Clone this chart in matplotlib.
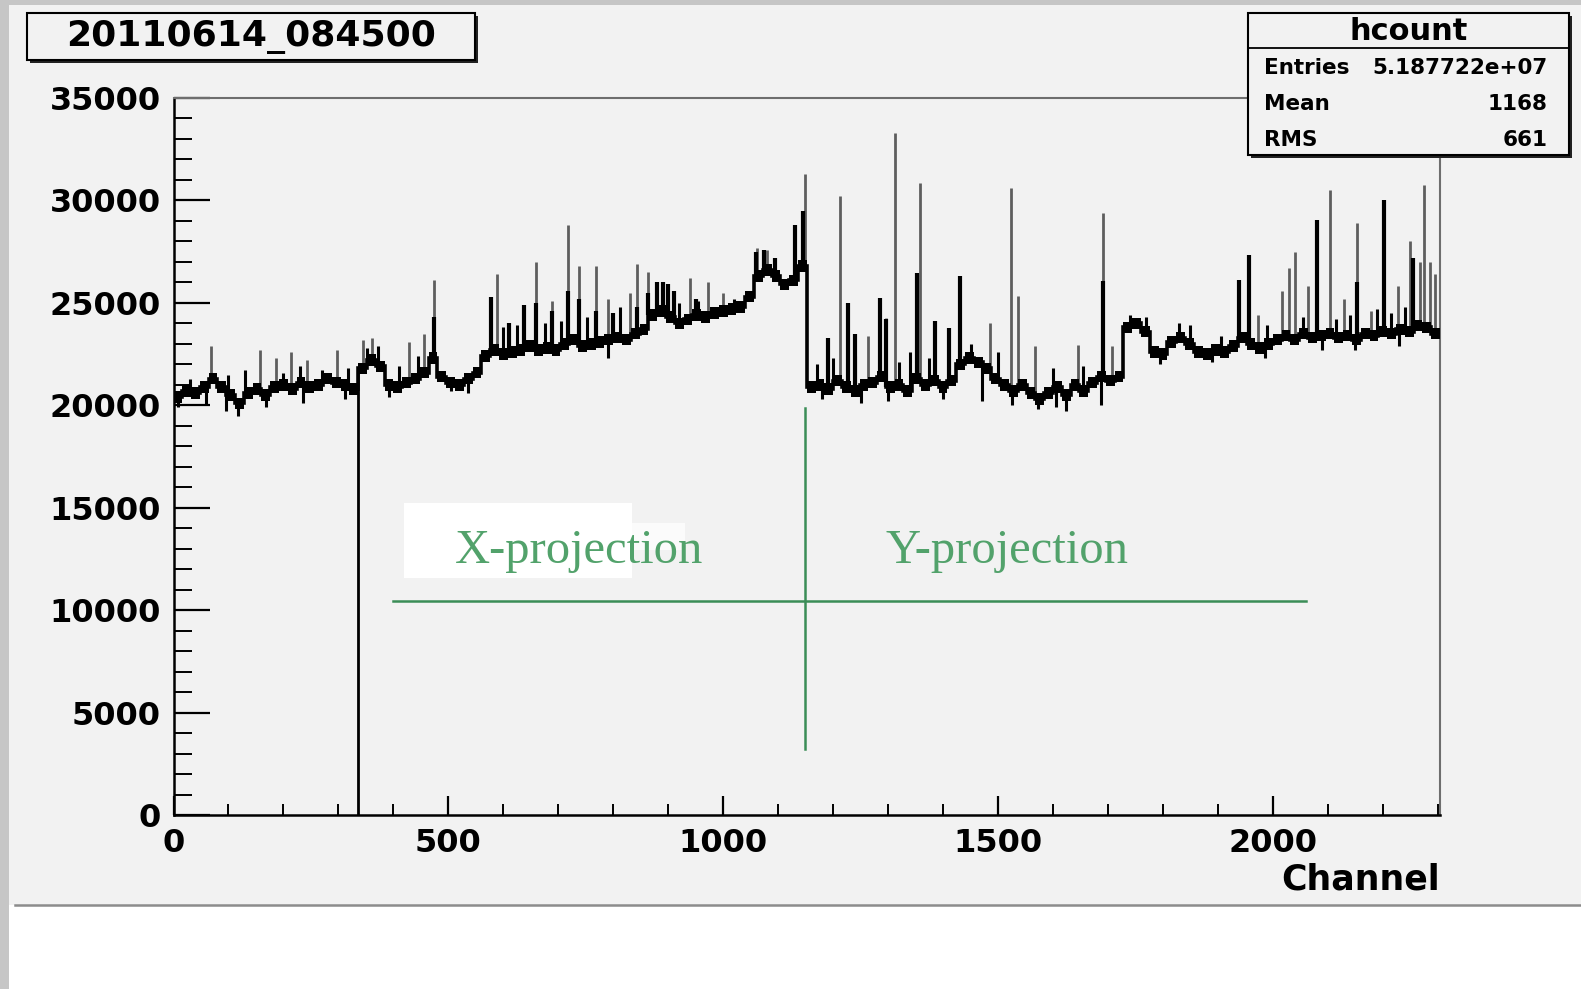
import numpy as np
import matplotlib
matplotlib.use("Agg")
import matplotlib.pyplot as plt
from matplotlib.patches import Rectangle
from matplotlib.lines import Line2D
from matplotlib.ticker import MultipleLocator

# ---------------- data ----------------
BIN = 16
n_channels = 2304
# baseline counts per 16-channel bin
baseline = [
    20400, 20700, 20600, 20900, 21300, 20900, 20500, 20100, 20600, 20800, 20500,
    20900, 21000, 20800, 21100, 20900, 21000, 21300, 21100, 21000, 20800,
    21800, 22200, 21900, 21000, 20900, 21100, 21300, 21600, 22300, 21400, 21100,
    21000, 21300, 21600,
    22400, 22700, 22500, 22600, 22700, 22900, 22700, 22800, 22700, 23000, 23200,
    22900, 23000, 23100, 23200, 23300, 23200, 23500, 23700,
    24400, 24600, 24300, 24000, 24200, 24400, 24300, 24500, 24600, 24700, 24800,
    25300, 26300, 26600, 26300, 25900, 26100, 26800,
    20900, 21000, 20800, 21200, 20900, 20700, 21000, 21100, 21400, 20900, 21000,
    20700, 21300, 21000, 21200, 20900, 21200, 22000, 22300, 22100, 21800, 21300,
    21000, 20700, 21000, 20600, 20300, 20600, 20900, 20500, 21000, 20700, 21100,
    21400, 21200, 21400,
    23800, 24000, 23600, 22600, 22500, 23100, 23300, 23000, 22600, 22500, 22700,
    22600, 22900, 23300, 23000, 22800, 23000, 23200, 23400, 23200, 23500, 23300,
    23400, 23500, 23300, 23400, 23200, 23500, 23400, 23600, 23500, 23700, 23600,
    23900, 23800, 23500,
]

# narrow (single-channel) spikes
thin_ch = [68, 158, 186, 214, 242, 298, 345, 362, 428, 456, 474, 589, 638, 659,
           689, 718, 738, 768, 790, 830, 844, 864, 940, 973, 1000, 1062, 1080,
           1149, 1191, 1212, 1264, 1297, 1313, 1358, 1386, 1410, 1486, 1524,
           1536, 1568, 1646, 1691, 1707, 1972, 2017, 2029, 2041, 2063, 2103,
           2130, 2153, 2178, 2227, 2249, 2267, 2275, 2285, 2294]
thin_peak = [22900, 22700, 22300, 22600, 22200, 22700, 23200, 23300, 23100,
             23500, 26100, 26400, 24900, 27000, 25100, 28800, 26800, 26800,
             25200, 25500, 26900, 26500, 26200, 26000, 25500, 27700, 27600,
             31300, 23300, 30200, 23400, 24250, 33300, 30850, 24100, 23750,
             24000, 30600, 25350, 22900, 22950, 29400, 22900, 24400, 25600,
             26700, 27500, 25800, 30500, 25200, 28900, 24600, 25800, 28000,
             27000, 30750, 27000, 26400]

# broad (multi-channel) peaks
wide_ch = [474, 577, 610, 638, 659, 689, 718, 738, 768, 800, 844, 864, 880,
           890, 900, 910, 950, 1060, 1075, 1095, 1130, 1145, 1191, 1227, 1240,
           1285, 1297, 1353, 1386, 1410, 1431, 1691, 1939, 1957, 2081, 2153,
           2202, 2255]
wide_peak = [24300, 25300, 24000, 24900, 25000, 24600, 25600, 25200, 24600,
             24500, 24800, 25500, 26000, 26000, 25900, 25600, 25200, 27500,
             27600, 27200, 28800, 29500, 23300, 25000, 23500, 25250, 24200,
             26450, 24100, 23750, 26300, 26050, 26100, 27350, 29050, 26000,
             30000, 27200]

# small fluctuations above baseline
minor_ch = [30, 100, 130, 200, 230, 270, 318, 352, 372, 410, 444, 600, 625, 676,
            705, 752, 812, 920, 955, 1020, 1170, 1200, 1240, 1320, 1340, 1375,
            1450, 1500, 1600, 1655, 1740, 1770, 1830, 1850, 1905, 1990, 2055,
            2115, 2140, 2190, 2215, 2240]
minor_peak = [21300, 21500, 21700, 21600, 21900, 21700, 21800, 22800, 22900,
              21900, 22400, 23800, 23900, 24000, 24100, 24300, 24800, 25000,
              25100, 25200, 22000, 22300, 22400, 22100, 22600, 22300, 23000,
              22600, 21800, 21900, 24400, 24300, 24000, 23900, 23400, 23900,
              24300, 24200, 24400, 24700, 24500, 24800]

# downward fluctuations
dip_ch = [8, 60, 95, 118, 168, 236, 312, 392, 505, 535, 790, 1180, 1250, 1300,
          1400, 1470, 1525, 1572, 1605, 1624, 1688, 1795, 1890, 1985, 2090,
          2150, 2230]
dip_low = [19900, 20000, 19700, 19500, 19900, 20100, 20300, 20400, 20700,
           20600, 22300, 20300, 20100, 20200, 20300, 20200, 20000, 19800,
           19900, 19700, 20000, 22000, 22100, 22300, 22700, 22700, 22900]

dead_channel = 336

title_text = "20110614_084500"
stats_name = "hcount"
stats_labels = ["Entries", "Mean", "RMS"]
stats_values = ["5.187722e+07", "1168", "661"]

# ---------------- figure ----------------
W, H = 1581, 989
fig = plt.figure(figsize=(W / 100, H / 100), dpi=100)
fig.patch.set_facecolor("white")

def fx(px):
    return px / W

def fy(py):
    return 1 - py / H

PANEL = "#f2f2f2"
BOLD = dict(family="DejaVu Sans", fontweight="bold")

# canvas background
fig.add_artist(Rectangle((fx(9), fy(905)), 1 - fx(9), fy(5) - fy(905),
                         transform=fig.transFigure, facecolor=PANEL,
                         edgecolor="none", zorder=-10))
fig.add_artist(Rectangle((0, 0), fx(9), 1, transform=fig.transFigure,
                         facecolor="#c6c6c6", edgecolor="none", zorder=-9))
fig.add_artist(Rectangle((0, fy(5)), 1, 1 - fy(5), transform=fig.transFigure,
                         facecolor="#c6c6c6", edgecolor="none", zorder=-9))
fig.add_artist(Line2D([fx(15), 1], [fy(905), fy(905)], transform=fig.transFigure,
                      color="#8c8c8c", lw=1.8, zorder=-8))

# axes
x0, x1, y0, y1 = 173.5, 1440, 815, 98
ax = fig.add_axes([fx(x0), fy(y0), fx(x1) - fx(x0), fy(y1) - fy(y0)])
ax.set_facecolor(PANEL)
ax.set_xlim(0, n_channels)
ax.set_ylim(0, 35000)

edges = np.arange(0, n_channels + BIN, BIN)
base = np.asarray(baseline, dtype=float)
BAND = 280  # half thickness of the noise ribbon (style)

def base_at(ch):
    return base[np.asarray(ch) // BIN]

ax.vlines(dip_ch, dip_low, base_at(dip_ch), color="black", lw=2.2, zorder=3)
ax.vlines(minor_ch, base_at(minor_ch), minor_peak, color="black", lw=2.2, zorder=3)
ax.vlines(thin_ch, base_at(thin_ch), thin_peak, color="#5e5e5e", lw=2.0, zorder=2)
ax.vlines(wide_ch, base_at(wide_ch), wide_peak, color="black", lw=3.0, zorder=3)
ax.stairs(base + BAND, edges, baseline=base - BAND, fill=True,
          color="black", lw=0, zorder=4)
ax.stairs(base, edges, baseline=None, color="black", lw=2.6, zorder=4)
ax.vlines([dead_channel], 0, base_at(dead_channel), color="black", lw=2.0, zorder=4)

# spines
for s in ("left", "bottom"):
    ax.spines[s].set_color("black")
    ax.spines[s].set_linewidth(1.8)
for s in ("top", "right"):
    ax.spines[s].set_color("#6e6e6e")
    ax.spines[s].set_linewidth(1.5)

ax.xaxis.set_major_locator(MultipleLocator(500))
ax.xaxis.set_minor_locator(MultipleLocator(100))
ax.yaxis.set_major_locator(MultipleLocator(5000))
ax.yaxis.set_minor_locator(MultipleLocator(1000))
ax.tick_params(axis="y", which="major", direction="in", length=26, width=1.6,
               pad=9, labelsize=23)
ax.tick_params(axis="y", which="minor", direction="in", length=13, width=1.4)
ax.tick_params(axis="x", which="major", direction="in", length=14, width=1.6,
               pad=9, labelsize=23)
ax.tick_params(axis="x", which="minor", direction="in", length=8, width=1.4)
for lab in ax.get_xticklabels() + ax.get_yticklabels():
    lab.set_fontfamily("DejaVu Sans")
    lab.set_fontweight("bold")

fig.text(fx(1440), fy(879), "Channel", ha="right", va="center", fontsize=25, **BOLD)

# title box
def shadow_box(xa, ya, xb, yb):
    fig.add_artist(Rectangle((fx(xa + 3), fy(yb + 3)), fx(xb) - fx(xa),
                             fy(ya) - fy(yb), transform=fig.transFigure,
                             facecolor="#222222", edgecolor="none", zorder=5))
    fig.add_artist(Rectangle((fx(xa), fy(yb)), fx(xb) - fx(xa), fy(ya) - fy(yb),
                             transform=fig.transFigure, facecolor=PANEL,
                             edgecolor="black", lw=1.5, zorder=6))

shadow_box(27, 13, 475, 60)
fig.text(fx(251), fy(37), title_text, ha="center", va="center", fontsize=26,
         zorder=7, **BOLD)

# stats box
shadow_box(1248, 13, 1569, 155)
fig.add_artist(Line2D([fx(1248), fx(1569)], [fy(48), fy(48)],
                      transform=fig.transFigure, color="black", lw=1.3, zorder=7))
fig.text(fx(1409), fy(31), stats_name, ha="center", va="center", fontsize=22,
         zorder=7, **BOLD)
for i, (lab, val) in enumerate(zip(stats_labels, stats_values)):
    yy = [68, 104, 140][i]
    fig.text(fx(1264), fy(yy), lab, ha="left", va="center", fontsize=15.5,
             zorder=7, **BOLD)
    fig.text(fx(1548), fy(yy), val, ha="right", va="center", fontsize=15.5,
             zorder=7, **BOLD)

# green projection annotations
fig.add_artist(Rectangle((fx(404), fy(578)), fx(632) - fx(404), fy(503) - fy(578),
                         transform=fig.transFigure, facecolor="white",
                         edgecolor="none", zorder=5))
fig.add_artist(Rectangle((fx(632), fy(550)), fx(685) - fx(632), fy(523) - fy(550),
                         transform=fig.transFigure, facecolor="#fbfbfb",
                         edgecolor="none", zorder=5))
GREEN_T = "#52a26b"
GREEN_L = "#3b8d57"
fig.add_artist(Line2D([fx(393), fx(1306)], [fy(601), fy(601)],
                      transform=fig.transFigure, color=GREEN_L, lw=1.8, zorder=6))
fig.add_artist(Line2D([fx(805), fx(805)], [fy(408), fy(749)],
                      transform=fig.transFigure, color=GREEN_L, lw=1.8, zorder=6))
fig.text(fx(579), fy(551), "X-projection", ha="center", va="center",
         fontsize=35, family="Liberation Serif", color=GREEN_T, zorder=7)
fig.text(fx(1007), fy(551), "Y-projection", ha="center", va="center",
         fontsize=35, family="Liberation Serif", color=GREEN_T, zorder=7)

fig.savefig("out.png", dpi=100)
